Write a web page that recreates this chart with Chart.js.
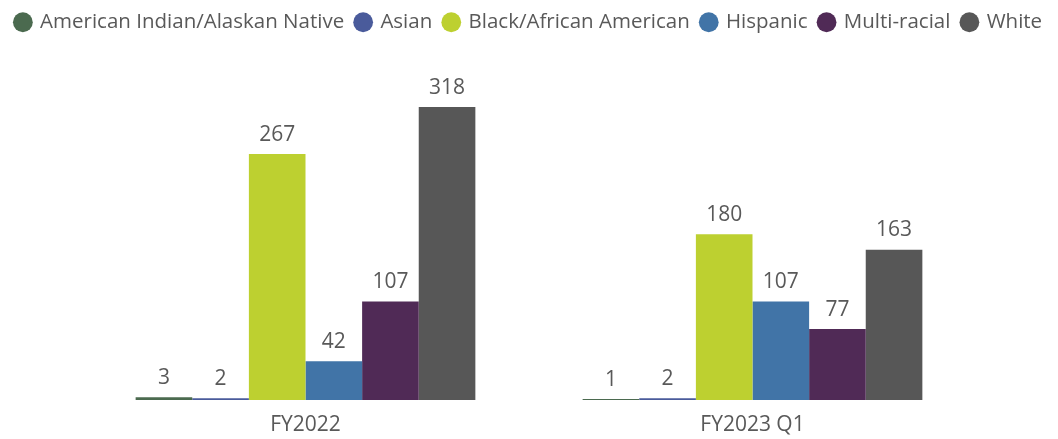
<!DOCTYPE html>
<html>
<head>
<meta charset="utf-8">
<script src="https://cdn.jsdelivr.net/npm/chart.js@4.4.0/dist/chart.umd.min.js"></script>
<style>
html, body { margin: 0; padding: 0; background: #fff; }
#wrap { width: 1058px; height: 439px; }
</style>
</head>
<body>
<div id="wrap"><canvas id="chart"></canvas></div>
<script>
const categories = ['FY2022', 'FY2023 Q1'];
const seriesNames = ['American Indian/Alaskan Native', 'Asian', 'Black/African American', 'Hispanic', 'Multi-racial', 'White'];
const aianValues = [3, 1];
const asianValues = [2, 2];
const blackValues = [267, 180];
const hispanicValues = [42, 107];
const multiValues = [107, 77];
const whiteValues = [318, 163];
const seriesColors = ['#4b6a4f', '#4a5b9b', '#bdd030', '#4174a7', '#502a56', '#575757'];

const textColor = '#595959';
const fontFamily = '"Open Sans", "Noto Sans", sans-serif';

const allValues = [aianValues, asianValues, blackValues, hispanicValues, multiValues, whiteValues];

// value labels above each bar
const barLabels = {
    id: 'barLabels',
    afterDatasetsDraw(chart) {
        const ctx = chart.ctx;
        ctx.save();
        ctx.font = '21px ' + fontFamily;
        ctx.fillStyle = textColor;
        ctx.textAlign = 'center';
        ctx.textBaseline = 'bottom';
        chart.data.datasets.forEach((ds, i) => {
            chart.getDatasetMeta(i).data.forEach((bar, j) => {
                ctx.fillText(ds.data[j], bar.x, bar.y - 9);
            });
        });
        ctx.restore();
    }
};

// fixed legend height so the plot area lines up
const legendHeight = {
    id: 'legendHeight',
    beforeInit(chart) {
        const fit = chart.legend.fit;
        chart.legend.fit = function () {
            fit.bind(chart.legend)();
            this.height = 50;
        };
    }
};

const sideAxis = (pos) => ({
    position: pos,
    display: true,
    min: 0,
    max: 380,
    grid: { display: false },
    border: { display: false },
    ticks: { display: false },
    afterFit: (s) => { s.width = 82; }
});

new Chart(document.getElementById('chart').getContext('2d'), {
    type: 'bar',
    data: {
        labels: categories,
        datasets: seriesNames.map((name, i) => ({
            label: name,
            data: allValues[i],
            backgroundColor: seriesColors[i],
            borderWidth: 0,
            categoryPercentage: 0.76,
            barPercentage: 1.0
        }))
    },
    options: {
        responsive: true,
        maintainAspectRatio: false,
        animation: false,
        layout: { padding: 0 },
        plugins: {
            legend: {
                position: 'top',
                labels: {
                    usePointStyle: true,
                    pointStyle: 'circle',
                    boxWidth: 14,
                    boxHeight: 14,
                    padding: 12,
                    color: textColor,
                    font: { family: fontFamily, size: 20.5 }
                }
            },
            tooltip: { enabled: false }
        },
        scales: {
            x: {
                grid: { display: false, drawTicks: false, tickLength: 0 },
                border: { display: false },
                ticks: {
                    color: textColor,
                    padding: 12,
                    font: { family: fontFamily, size: 21 }
                },
                afterFit: (s) => { s.height = 39; }
            },
            y: sideAxis('left'),
            y2: sideAxis('right')
        }
    },
    plugins: [barLabels, legendHeight]
});
</script>
</body>
</html>
